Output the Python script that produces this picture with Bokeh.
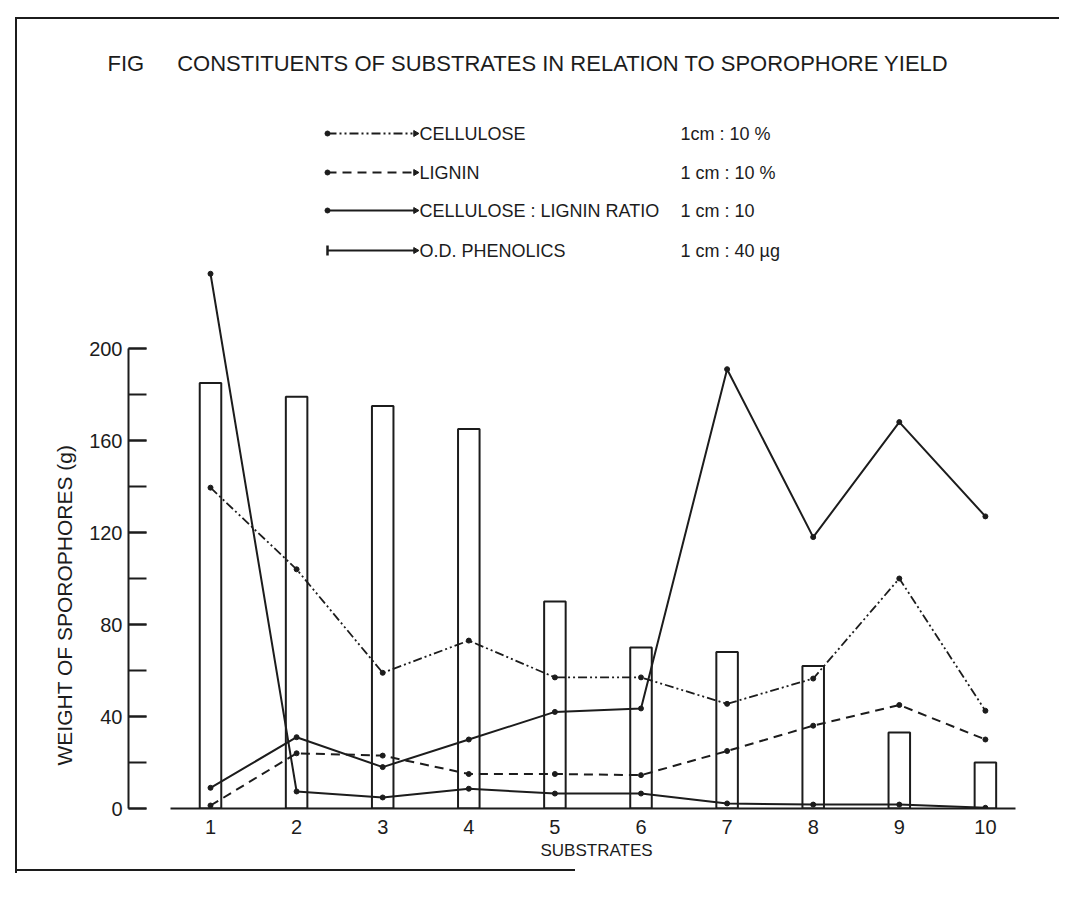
import math
from bokeh.plotting import figure
from bokeh.models import Range1d, FixedTicker, SingleIntervalTicker, Label, Title
from bokeh.embed import file_html
from bokeh.resources import INLINE

# ---------------- data ----------------
substrates = [1, 2, 3, 4, 5, 6, 7, 8, 9, 10]
tick_labels = ["1", "2", "3", "4", "5", "6", "7", "8", "9", "10"]
sporophore_weight = [185, 179, 175, 165, 90, 70, 68, 62, 33, 20]          # bars (g)
cellulose = [139.5, 104, 59, 73, 57, 57, 45.5, 56.5, 100, 42.5]            # 1 cm : 10 %
lignin = [1.3, 24, 23, 15, 15, 14.5, 25, 36, 45, 30]                       # 1 cm : 10 %
cl_ratio = [232.5, 7.4, 4.8, 8.6, 6.5, 6.5, 2.2, 1.7, 1.7, 0.3]            # 1 cm : 10
phenolics = [9, 31, 18, 30, 42, 43.5, 191, 118, 168, 127]                  # 1 cm : 40 ug

series_names = ["CELLULOSE", "LIGNIN", "CELLULOSE : LIGNIN RATIO", "O.D. PHENOLICS"]
series_scales = ["1cm : 10 %", "1 cm : 10 %", "1 cm : 10", "1 cm : 40 \u00b5g"]
title_text = "FIG\u2003\u2002CONSTITUENTS OF SUBSTRATES IN RELATION TO SPOROPHORE YIELD"
x_title = "SUBSTRATES"
y_title = "WEIGHT OF SPOROPHORES (g)"

# ---------------- layout helpers (page pixel -> data units) ----------------
X0_PX, DX_PX = 210.0, 86.1   # page x of substrate 1, px per substrate
Y0_PX, DY_PX = 808.0, 2.3    # page y of weight 0, px per gram
W, H = 1059, 882
FRAME_L, FRAME_R, FRAME_T = 128, 1015, 90


def dx(px):
    return 1 + (px - X0_PX) / DX_PX


def dy(py):
    return (Y0_PX - py) / DY_PX


INK = "#1c1c1c"
FONT = "Liberation Sans"

p = figure(width=W, height=H,
           x_range=Range1d(dx(FRAME_L), dx(FRAME_R)), y_range=Range1d(0, dy(FRAME_T)),
           output_backend="svg", toolbar_location=None,
           min_border_left=FRAME_L, min_border_right=W - FRAME_R,
           min_border_top=FRAME_T, min_border_bottom=H - int(Y0_PX))
p.outline_line_color = None
p.xgrid.grid_line_color = None
p.ygrid.grid_line_color = None
p.background_fill_color = None
p.border_fill_color = None
# scanned page frame edges (left, top, bottom) painted as background strokes of the host
_edge = "linear-gradient(#1c1c1c, #1c1c1c)"
p.styles = {
    "background": (f"{_edge} 15px 17px / 2px 856px no-repeat, "
                   f"{_edge} 15px 17px / 1044px 2px no-repeat, "
                   f"{_edge} 15px 869px / 560px 2px no-repeat, white"),
}

# title
p.title.text = title_text
p.title.align = "left"
p.title.offset = 107 - FRAME_L
p.title.text_font = FONT
p.title.text_font_size = "22px"
p.title.text_font_style = "normal"
p.title.text_color = INK
p.title.standoff = 30

# x axis
p.xaxis.ticker = FixedTicker(ticks=substrates)
p.xaxis.major_label_overrides = {s: t for s, t in zip(substrates, tick_labels)}
p.xaxis.bounds = (dx(170), dx(FRAME_R))
p.xaxis.major_tick_in = 0
p.xaxis.major_tick_out = 0
p.xaxis.minor_tick_in = 0
p.xaxis.minor_tick_out = 0
p.xaxis.major_label_standoff = 11
p.xaxis.axis_line_width = 2
p.xaxis.axis_line_color = INK

# y axis
p.yaxis.ticker = SingleIntervalTicker(interval=40, num_minor_ticks=2)
p.yaxis.bounds = (0, 200)
p.yaxis.major_tick_in = 18
p.yaxis.major_tick_out = 0
p.yaxis.minor_tick_in = 18
p.yaxis.minor_tick_out = 0
p.yaxis.major_tick_line_width = 2
p.yaxis.minor_tick_line_width = 2
p.yaxis.major_tick_line_color = INK
p.yaxis.minor_tick_line_color = INK
p.yaxis.axis_line_width = 2
p.yaxis.axis_line_color = INK
p.yaxis.major_label_standoff = 6

p.axis.major_label_text_font = FONT
p.axis.major_label_text_font_size = "20px"
p.axis.major_label_text_color = INK

# axis titles
p.add_layout(Title(text=y_title, align="left", offset=Y0_PX - 765, standoff=21,
                   text_font=FONT, text_font_size="21px", text_font_style="normal",
                   text_color=INK), "left")
p.add_layout(Title(text=x_title, align="left", offset=540 - FRAME_L, standoff=4,
                   text_font=FONT, text_font_size="17px", text_font_style="normal",
                   text_color=INK), "below")

# bars
p.vbar(x=substrates, top=sporophore_weight, bottom=0, width=0.25,
       fill_color=None, line_color=INK, line_width=2)

# lines
styles = [
    (cellulose, "9 3 2 3 2 3", 1.8),
    (lignin, "9 6", 2),
    (cl_ratio, "solid", 2),
    (phenolics, "solid", 2),
]
for vals, dash, lw in styles:
    p.line(substrates, vals, line_color=INK, line_width=lw, line_dash=dash)
    p.scatter(substrates, vals, size=5, color=INK)

# legend (drawn by hand, like the original)
LEG_X0, LEG_X1, LEG_TEXT_X, SCALE_X = 327, 415, 419, 680
LEG_ROWS = [133, 172, 210, 250]
for (vals, dash, lw), name, scale, row in zip(styles, series_names, series_scales, LEG_ROWS):
    p.line([dx(LEG_X0), dx(LEG_X1)], [dy(row), dy(row)], line_color=INK,
           line_width=lw, line_dash=dash)
    if name == "O.D. PHENOLICS":
        p.scatter([dx(LEG_X0)], [dy(row)], marker="dash", angle=math.pi / 2,
                  size=10, line_color=INK, line_width=2.5)
    else:
        p.scatter([dx(LEG_X0)], [dy(row)], size=5, color=INK)
    p.scatter([dx(LEG_X1)], [dy(row)], marker="triangle", angle=-math.pi / 2,
              size=6, color=INK)
    p.add_layout(Label(x=dx(LEG_TEXT_X), y=dy(row), text=name, text_font=FONT,
                       text_font_size="18px", text_color=INK, text_baseline="middle"))
    p.add_layout(Label(x=dx(SCALE_X), y=dy(row), text=scale, text_font=FONT,
                       text_font_size="18px", text_color=INK, text_baseline="middle"))

open("out.html", "w").write(file_html(p, INLINE))
